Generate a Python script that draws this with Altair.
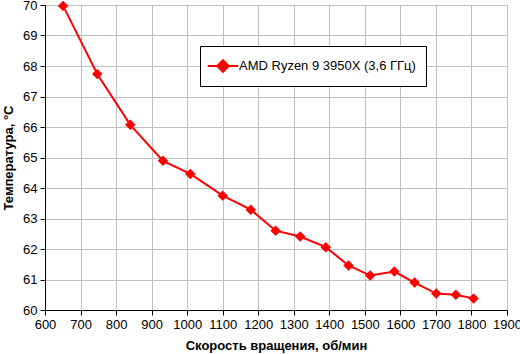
import altair as alt
import pandas as pd

rpm = [651, 747, 840, 932, 1009, 1100, 1179, 1249, 1318, 1390, 1454, 1515, 1583, 1640, 1701, 1756, 1806]
temp = [69.97, 67.74, 66.07, 64.89, 64.46, 63.75, 63.29, 62.60, 62.41, 62.06, 61.46, 61.13, 61.26, 60.90, 60.54, 60.50, 60.38]
series_name = "AMD Ryzen 9 3950X (3,6 ГГц)"
x_ticks = list(range(600, 1901, 100))
y_ticks = list(range(60, 71, 1))

df = pd.DataFrame({"rpm": rpm, "temp": temp, "s": [series_name] * len(rpm)})

FONT = "Liberation Sans"

x = alt.X("rpm:Q", scale=alt.Scale(domain=[600, 1900], nice=False),
          axis=alt.Axis(values=x_ticks, title="Скорость вращения, об/мин", format="d",
                        labelOverlap=False, labelFlush=False))
y = alt.Y("temp:Q", scale=alt.Scale(domain=[60, 70], nice=False, zero=False),
          axis=alt.Axis(values=y_ticks, title="Температура, °C", format="d",
                        labelOverlap=False, labelFlush=False))
color = alt.Color("s:N", scale=alt.Scale(domain=[series_name], range=["#ff0000"]),
                  legend=alt.Legend(title=None, orient="none", legendX=155, legendY=41,
                                    strokeColor="black", fillColor="white", padding=10,
                                    symbolType="M-1.7,0L1.7,0M0,-0.65L0.65,0L0,0.65L-0.65,0Z",
                                    symbolSize=320, symbolStrokeWidth=2,
                                    symbolFillColor="#ff0000", symbolStrokeColor="#ff0000",
                                    labelFont=FONT, labelFontSize=13, labelColor="black",
                                    labelLimit=0, symbolOffset=3, labelOffset=6))

line = alt.Chart(df).mark_line(strokeWidth=2, point=alt.OverlayMarkDef(shape="diamond", size=110, filled=True, opacity=1)).encode(
    x=x, y=y, color=color)

chart = line.properties(width=462, height=305,
                        autosize=alt.AutoSizeParams(type="none"),
                        padding={"left": 45, "top": 5, "right": 13, "bottom": 44}).configure_view(
    stroke="#a0a0a0", strokeWidth=1).configure_axis(
    labelFont=FONT, labelFontSize=13, labelColor="black",
    titleFont=FONT, titleFontSize=13, titleFontWeight="bold", titleColor="black",
    domainColor="black", tickColor="black", tickSize=5,
    gridColor="#c0c0c0", gridWidth=1, labelPadding=3).configure_axisY(
    titlePadding=7).configure_axisX(titlePadding=8)

chart.save("out.html", embed_options={"renderer": "svg", "actions": False})
